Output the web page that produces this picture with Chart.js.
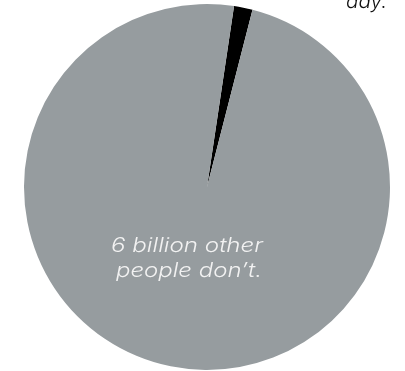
<!DOCTYPE html>
<html>
<head>
<meta charset="utf-8">
<script src="https://cdn.jsdelivr.net/npm/chart.js@4"></script>
<style>
  html, body { margin: 0; padding: 0; background: #fff; }
  #wrap { width: 405px; height: 371px; position: relative; }
</style>
</head>
<body>
<div id="wrap"><canvas id="pie" width="405" height="371"></canvas></div>
<script>
// Data (millions of people)
const labels = ['People who do', 'Other people'];
const values = [100, 6000];
const colors = ['#000000', '#969c9f'];

// Annotation texts
const topNote = 'day.';
const innerNote = ['6 billion other', 'people don\u2019t.'];

// draw text stretched a bit so it fills the given width (the original font is wider)
function wideText(ctx, text, x, y, width) {
    const w = ctx.measureText(text).width;
    ctx.save();
    ctx.translate(x, y);
    ctx.scale(width / w, 1);
    ctx.fillText(text, 0, 0);
    ctx.restore();
}

// Draw the free text on top of the pie
const textPlugin = {
    id: 'notes',
    afterDraw(chart) {
        const ctx = chart.ctx;
        ctx.save();
        ctx.textBaseline = 'alphabetic';
        ctx.textAlign = 'left';

        ctx.font = 'italic 300 20px Inter, "Open Sans", sans-serif';
        ctx.fillStyle = '#111';
        wideText(ctx, topNote, 346, 8, 41);

        ctx.fillStyle = '#f2f2f2';
        wideText(ctx, innerNote[0], 111, 252, 152);
        wideText(ctx, innerNote[1], 116, 277, 146);
        ctx.restore();
    }
};

new Chart(document.getElementById('pie'), {
    type: 'pie',
    data: {
        labels: labels,
        datasets: [{
            data: values,
            backgroundColor: colors,
            borderWidth: 0
        }]
    },
    options: {
        responsive: false,
        animation: false,
        rotation: 8.5,
        layout: { padding: { left: 24, right: 15, top: 4, bottom: 1 } },
        plugins: {
            legend: { display: false },
            tooltip: { enabled: false }
        }
    },
    plugins: [textPlugin]
});
</script>
</body>
</html>
